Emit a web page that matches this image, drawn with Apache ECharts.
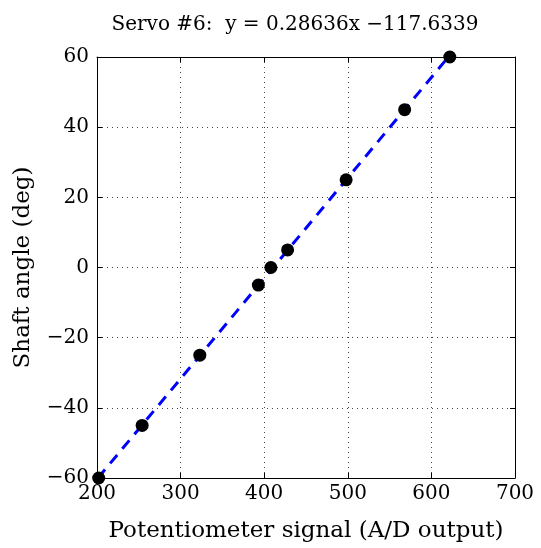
<!DOCTYPE html>
<html><head><meta charset="utf-8">
<script src="https://cdn.jsdelivr.net/npm/echarts@6/dist/echarts.min.js"></script>
<style>html,body{margin:0;padding:0;background:#fff}#c{width:541px;height:548px}</style>
</head><body><div id="c"></div>
<script>
const titleText = 'Servo #6:  y = 0.28636x \u2212117.6339';
const xName = 'Potentiometer signal (A/D output)';
const yName = 'Shaft angle (deg)';
const potSignal = [202, 254, 323, 393, 408, 428, 498, 568, 622];
const shaftAngle = [-60, -45, -25, -5, 0, 5, 25, 45, 60];
const fitX = [201.2, 620.3];
const fitY = [-60, 60];
const xTicks = [200, 300, 400, 500, 600, 700];
const yTicks = [-60, -40, -20, 0, 20, 40, 60];

const FONT = 'DejaVu Serif';
const pts = potSignal.map((x, i) => [x, shaftAngle[i]]);
const fit = fitX.map((x, i) => [x, fitY[i]]);
const fmtY = v => (v < 0 ? '\u2212' + Math.abs(v) : String(v));

const chart = echarts.init(document.getElementById('c'), null, {renderer: 'canvas'});
const axisCommon = {
  axisLine: {show: true, onZero: false, lineStyle: {color: '#000', width: 1}},
  axisTick: {show: true, inside: true, length: 5, lineStyle: {color: '#000'}},
};
chart.setOption({
  animation: false,
  backgroundColor: '#fff',
  title: {text: titleText, left: 290, top: 10, textAlign: 'center',
    textStyle: {fontFamily: FONT, fontSize: 20, fontWeight: 'normal', color: '#000'}},
  grid: {left: 97, right: 26, top: 57, bottom: 68, containLabel: false},
  xAxis: [{
    type: 'value', min: xTicks[0], max: xTicks[xTicks.length - 1], interval: 100,
    ...axisCommon,
    axisLabel: {fontFamily: FONT, fontSize: 20, color: '#000', margin: 6},
    splitLine: {show: true, lineStyle: {type: [1, 4], color: '#444', width: 1}},
    name: xName, nameLocation: 'middle', nameGap: 42,
    nameTextStyle: {fontFamily: FONT, fontSize: 23, color: '#000'}
  }, {
    type: 'value', position: 'top', min: xTicks[0], max: xTicks[xTicks.length - 1], interval: 100,
    ...axisCommon, axisLabel: {show: false}, splitLine: {show: false}
  }],
  yAxis: [{
    type: 'value', min: yTicks[0], max: yTicks[yTicks.length - 1], interval: 20,
    ...axisCommon,
    axisLabel: {fontFamily: FONT, fontSize: 20, color: '#000', margin: 8, formatter: fmtY},
    splitLine: {show: true, lineStyle: {type: [1, 4], color: '#444', width: 1}},
    name: yName, nameLocation: 'middle', nameGap: 62,
    nameTextStyle: {fontFamily: FONT, fontSize: 23, color: '#000'}
  }, {
    type: 'value', position: 'right', min: yTicks[0], max: yTicks[yTicks.length - 1], interval: 20,
    ...axisCommon, axisLabel: {show: false}, splitLine: {show: false}
  }],
  series: [{
    type: 'line', data: fit, symbol: 'none', silent: true,
    lineStyle: {color: '#0000ff', width: 3, type: [11, 8]}, z: 2
  }, {
    type: 'scatter', data: pts, symbol: 'circle', symbolSize: 13, clip: false,
    itemStyle: {color: '#000', opacity: 1}, z: 3
  }]
});
</script></body></html>
